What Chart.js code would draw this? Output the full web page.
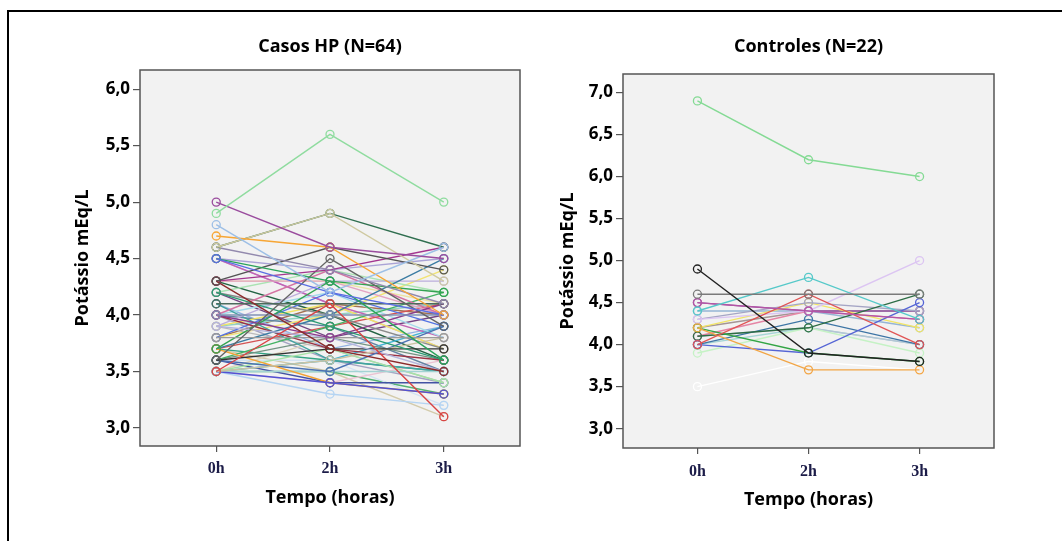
<!DOCTYPE html>
<html>
<head>
<meta charset="utf-8">
<script src="https://cdn.jsdelivr.net/npm/chart.js@4.4.1/dist/chart.umd.min.js"></script>
<style>
  html, body { margin: 0; padding: 0; background: #ffffff; }
  #wrap { position: relative; width: 1062px; height: 541px; overflow: hidden; background: #fff; }
  #frame { position: absolute; left: 7px; top: 10px; width: 1100px; height: 600px;
           border-left: 2px solid #000; border-top: 2px solid #000; }
  canvas { position: absolute; top: 0; }
  #c1 { left: 0; }
  #c2 { left: 531px; }
</style>
</head>
<body>
<div id="wrap">
  <div id="frame"></div>
  <canvas id="c1" width="531" height="541"></canvas>
  <canvas id="c2" width="531" height="541"></canvas>
</div>
<script>
// ---------- DATA ----------
const categories = ['0h', '2h', '3h'];

// Casos HP (N=64): potassium at 0h, 2h, 3h (one entry per patient)
const hp0h = [4.9,5.0,4.8,4.7,4.6,4.6,4.6,4.5,4.5,4.3,
              4.3,4.3,3.6,3.5,4.5,4.1,4.2,4.0,4.0,3.9,
              3.8,3.7,3.6,3.5,3.5,3.5,3.7,3.6,3.7,4.0,
              3.9,4.2,4.0,3.5,3.5,3.6,3.8,4.3,4.1,3.9,
              3.7,4.0,3.6,3.5,4.5,4.2,4.3,3.9,3.8,4.0,
              3.6,3.5,4.1,3.7,4.5,3.5,4.2,3.9,3.6,4.0,
              3.8,3.5,4.3,3.7];
const hp2h = [5.6,4.6,4.2,4.6,4.9,4.9,4.4,4.2,4.3,4.6,
              3.7,4.4,4.5,4.1,4.4,4.1,3.9,4.0,3.8,3.8,
              3.8,4.3,3.7,3.6,3.4,3.3,3.4,3.5,4.0,4.4,
              4.3,4.0,3.7,3.5,3.7,3.9,4.2,4.3,3.6,4.1,
              3.9,4.2,3.8,3.6,4.1,4.4,4.0,3.7,4.0,3.9,
              3.4,3.8,3.7,3.6,4.1,3.4,3.8,4.0,3.6,3.6,
              4.1,3.5,4.3,3.5];
const hp3h = [5.0,4.5,4.6,4.0,4.3,4.6,4.1,4.0,3.6,4.4,
              3.5,4.6,3.9,3.1,4.5,4.1,3.6,4.0,4.1,3.5,
              3.8,4.2,3.7,3.8,3.3,3.2,3.3,3.9,4.5,4.0,
              4.3,3.7,3.6,3.5,3.4,4.2,3.9,4.0,3.5,3.7,
              4.1,3.8,3.6,3.9,3.8,4.2,3.6,3.4,4.4,3.5,
              3.4,3.8,3.9,3.5,3.7,3.6,4.0,4.1,3.2,3.4,
              4.0,3.3,4.1,3.1];

// Controles (N=22)
const ctl0h = [6.9,4.9,4.6,4.4,4.5,4.0,4.2,3.5,4.3,4.2,4.0,4.1,4.0,4.3,4.2,4.4,4.5,4.1,3.9,4.1,4.2,4.0];
const ctl2h = [6.2,3.9,4.6,4.8,4.4,4.6,3.7,3.8,4.4,3.9,3.9,4.2,4.3,4.5,4.5,4.4,4.4,4.4,4.2,4.2,4.4,4.2];
const ctl3h = [6.0,3.8,4.6,4.3,4.3,4.0,3.7,3.7,5.0,3.8,4.5,4.6,4.0,4.4,4.2,4.2,4.4,4.3,3.9,4.0,4.4,4.0];

const hpTicks  = [3.0, 3.5, 4.0, 4.5, 5.0, 5.5, 6.0];
const ctlTicks = [3.0, 3.5, 4.0, 4.5, 5.0, 5.5, 6.0, 6.5, 7.0];

// ---------- STYLES ----------
const hpColors = ['#8fdc9f','#9a4c9e','#9dbfe6','#f7a635','#cfc9a0','#2f6e4f','#9289ad','#5b6ee3','#2ba35b','#545454',
                  '#8c2b2b','#a3358f','#656565','#d94444','#aaa3d6','#4c6b5c','#2b9c72','#8292b4','#8b3b8b','#b4b4dc',
                  '#9b9b9b','#33a352','#333333','#cbc3a3','#5252d4','#b5d4f2','#f2a233','#4b72b3','#3b7ca3','#d474a3',
                  '#bcaddc','#8a8a8a','#9b3243','#a3d3d3','#a5e3a5','#43b363','#5373e3','#e3a3c3','#43a3a3','#f2e263',
                  '#d35353','#a3dbeb','#739383','#43b3d3','#c363b3','#abe3b3','#236343','#bbbbbb','#f2e373','#6383a3',
                  '#4353a3','#dbd3bb','#93b3e3','#33a383','#c3a3e3','#ebc3d3','#734383','#93d3c3','#d3e3f3','#a3a3c3',
                  '#a37353','#53b373','#ebe3a3','#d3cbab'];
const ctlColors = ['#84da94','#222222','#7a7a7a','#55c9c9','#b455a5','#e05555','#f2a545','#ffffff','#dcc5f2','#33a545',
                   '#5565d5','#2d6d45','#3d75a5','#a5a5c5','#f2e565','#95b5d5','#9555a5','#e585a5','#c5f2c5','#b5c5d5',
                   '#a59595','#a5d5d5'];

Chart.defaults.font.family = "'Open Sans', sans-serif";

function makeDatasets(a, b, c, colors) {
  return a.map((v, i) => ({
    data: [a[i], b[i], c[i]].map((y, k) => ({ x: k, y: y })),
    borderColor: colors[i],
    backgroundColor: 'rgba(0,0,0,0)',
    borderWidth: 1.4,
    pointRadius: 4,
    pointBorderWidth: 1.3,
    pointBorderColor: colors[i],
    pointBackgroundColor: 'rgba(0,0,0,0)',
    tension: 0
  }));
}

const plotFrame = {
  id: 'plotFrame',
  beforeDraw(chart) {
    const { ctx, chartArea: a } = chart;
    ctx.save();
    ctx.fillStyle = '#f2f2f2';
    ctx.fillRect(a.left, a.top, a.right - a.left, a.bottom - a.top);
    ctx.restore();
  },
  afterDraw(chart) {
    const { ctx, chartArea: a } = chart;
    ctx.save();
    ctx.strokeStyle = '#555555';
    ctx.lineWidth = 1.5;
    ctx.strokeRect(a.left, a.top, a.right - a.left, a.bottom - a.top);
    ctx.restore();
  }
};

function makeChart(id, cfg) {
  const fmt = v => v.toFixed(1).replace('.', ',');
  return new Chart(document.getElementById(id), {
    type: 'line',
    data: { datasets: makeDatasets(cfg.a, cfg.b, cfg.c, cfg.colors) },
    plugins: [plotFrame],
    options: {
      responsive: false,
      animation: false,
      events: [],
      layout: { padding: cfg.padding },
      plugins: {
        legend: { display: false },
        tooltip: { enabled: false },
        title: {
          display: true,
          text: cfg.title,
          fullSize: false,
          color: '#000',
          font: { size: 18, weight: 'bold' },
          padding: { top: 0, bottom: cfg.titleGap }
        }
      },
      scales: {
        x: {
          type: 'linear',
          min: -0.67, max: 2.67,
          afterBuildTicks: s => { s.ticks = categories.map((_, i) => ({ value: i })); },
          afterFit: s => { s.height = cfg.xHeight; },
          grid: { drawOnChartArea: false, drawTicks: true, tickLength: 6, color: '#555555', lineWidth: 1.2 },
          border: { display: false },
          ticks: {
            callback: v => categories[v],
            color: '#1c1c48',
            font: { family: "'Liberation Serif', serif", size: 16, weight: 'bold' },
            padding: cfg.xPad,
            maxRotation: 0
          },
          title: {
            display: true, text: 'Tempo (horas)', color: '#000',
            font: { size: 18, weight: 'bold' }, padding: 0
          }
        },
        y: {
          type: 'linear',
          min: cfg.ymin, max: cfg.ymax,
          afterBuildTicks: s => { s.ticks = cfg.ticks.map(v => ({ value: v })); },
          afterFit: s => { s.width = cfg.yWidth; },
          grid: { drawOnChartArea: false, drawTicks: true, tickLength: 7, color: '#555555', lineWidth: 1.2 },
          border: { display: false },
          ticks: {
            callback: v => fmt(v),
            color: '#000',
            font: { size: 17, weight: 'bold' },
            padding: 3
          },
          title: {
            display: true, text: 'Potássio mEq/L', color: '#000',
            font: { size: 18, weight: 'bold' }, padding: 0
          }
        }
      }
    }
  });
}

makeChart('c1', {
  a: hp0h, b: hp2h, c: hp3h, colors: hpColors,
  title: 'Casos HP (N=64)',
  ymin: 2.84, ymax: 6.17, ticks: hpTicks,
  padding: { left: 72, right: 11, top: 36, bottom: 32 },
  titleGap: 12.4, yWidth: 68, xHeight: 63, xPad: 7
});

makeChart('c2', {
  a: ctl0h, b: ctl2h, c: ctl3h, colors: ctlColors,
  title: 'Controles (N=22)',
  ymin: 2.77, ymax: 7.22, ticks: ctlTicks,
  padding: { left: 26, right: 68, top: 36, bottom: 30 },
  titleGap: 16.4, yWidth: 66, xHeight: 63, xPad: 8
});
</script>
</body>
</html>
